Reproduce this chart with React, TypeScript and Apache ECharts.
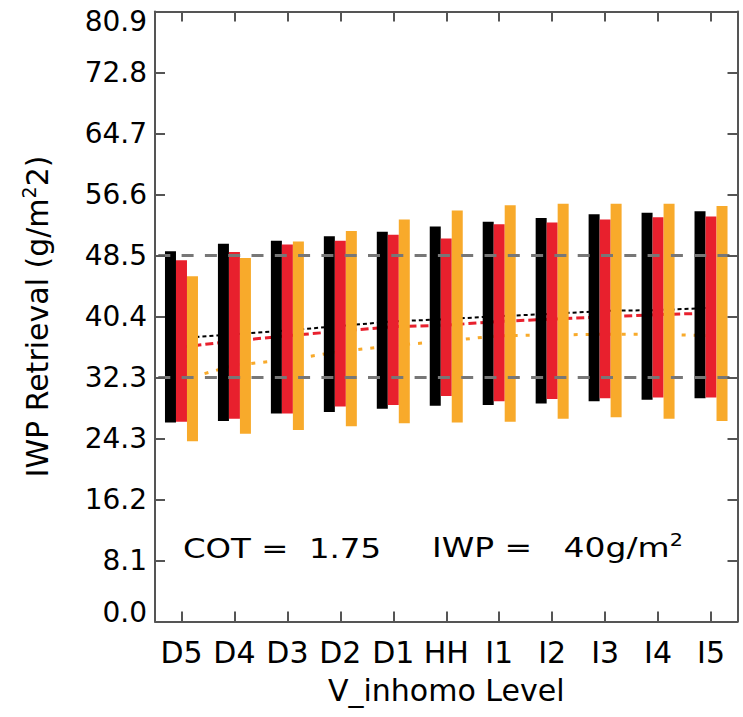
import React, { useEffect, useRef } from 'react';
import * as echarts from 'echarts';

const categories = ['D5', 'D4', 'D3', 'D2', 'D1', 'HH', 'I1', 'I2', 'I3', 'I4', 'I5'];

const blackLow = [26.4, 26.6, 27.6, 27.8, 28.2, 28.6, 28.7, 28.9, 29.2, 29.4, 29.6];
const blackHigh = [49.1, 50.1, 50.5, 51.1, 51.7, 52.4, 53.0, 53.5, 54.0, 54.2, 54.4];
const redLow = [26.5, 26.9, 27.6, 28.5, 28.7, 29.9, 29.2, 29.5, 29.6, 29.7, 29.7];
const redHigh = [47.9, 49.0, 50.0, 50.5, 51.3, 50.8, 52.7, 52.9, 53.3, 53.6, 53.7];
const orangeLow = [23.9, 24.9, 25.4, 25.9, 26.3, 26.4, 26.5, 26.9, 27.1, 26.9, 26.6];
const orangeHigh = [45.8, 48.2, 50.4, 51.8, 53.3, 54.5, 55.2, 55.4, 55.4, 55.4, 55.1];

const blackMean = [37.6, 38.1, 38.6, 39.2, 39.8, 40.1, 40.5, 40.8, 41.2, 41.3, 41.6];
const redMean = [36.4, 37.2, 37.9, 38.5, 39.1, 39.3, 39.8, 40.1, 40.4, 40.7, 40.9];
const orangeMean = [32.0, 34.0, 34.7, 35.8, 36.6, 37.2, 37.9, 38.0, 38.1, 38.1, 37.9];

const upperBound = 48.54;
const lowerBound = 32.36;

const yTickLabels = ['0.0', '8.1', '16.2', '24.3', '32.3', '40.4', '48.5', '56.6', '64.7', '72.8', '80.9'];
const yMax = 80.9;
const yInterval = 8.09;

const FONT = 'DejaVu Sans';
const FS = 28;
const AXIS_COLOR = '#555';
const BLACK = '#000000';
const RED = '#E8202D';
const ORANGE = '#F8AA2B';

function rangeSeries(stack: string, low: number[], high: number[], color: string) {
  return [
    {
      type: 'bar',
      stack,
      data: low,
      barWidth: 11,
      barGap: '0%',
      itemStyle: { color: 'transparent' },
      silent: true,
      z: 3,
    },
    {
      type: 'bar',
      stack,
      data: high.map((h, i) => +(h - low[i]).toFixed(3)),
      barWidth: 11,
      barGap: '0%',
      itemStyle: { color },
      z: 3,
    },
  ];
}

const tickStyle = { show: true, inside: true, length: 10, lineStyle: { color: AXIS_COLOR, width: 2 } };
const lineStyleAxis = { show: true, onZero: false, lineStyle: { color: AXIS_COLOR, width: 2 } };

export default function App() {
  const ref = useRef<HTMLDivElement>(null);
  useEffect(() => {
    const chart = echarts.init(ref.current!, null, { renderer: 'svg' });
    const labelRich = {
      lo: { fontSize: FS, fontFamily: FONT, color: '#000', padding: [0, 0, 18, 0] },
      hi: { fontSize: FS, fontFamily: FONT, color: '#000', padding: [20, 0, 0, 0] },
    };
    const option: any = {
      animation: false,
      backgroundColor: '#fff',
      grid: {
        left: 155,
        top: 11.5,
        right: 5.5,
        bottom: 95.5,
        show: false,
      },
      xAxis: [
        {
          type: 'category',
          data: categories,
          position: 'bottom',
          axisLine: lineStyleAxis,
          axisTick: { ...tickStyle, alignWithLabel: true, interval: 0 },
          axisLabel: { margin: 16, fontSize: 30, fontFamily: FONT, color: '#000', interval: 0 },
          splitLine: { show: false },
          name: 'V_inhomo Level',
          nameLocation: 'middle',
          nameGap: 54,
          nameTextStyle: { fontSize: 30, fontFamily: FONT, color: '#000', verticalAlign: 'top' },
          z: 10,
        },
        {
          type: 'category',
          data: categories,
          position: 'top',
          axisLine: lineStyleAxis,
          axisTick: { ...tickStyle, alignWithLabel: true, interval: 0 },
          axisLabel: { show: false },
          splitLine: { show: false },
          z: 10,
        },
      ],
      yAxis: [
        {
          type: 'value',
          min: 0,
          max: yMax,
          interval: yInterval,
          position: 'left',
          axisLine: lineStyleAxis,
          axisTick: tickStyle,
          splitLine: { show: false },
          axisLabel: {
            margin: 8,
            fontSize: FS,
            fontFamily: FONT,
            color: '#000',
            formatter: (_v: number, idx: number) => {
              const s = yTickLabels[idx] ?? '';
              if (idx === 0) return '{lo|' + s + '}';
              if (idx === yTickLabels.length - 1) return '{hi|' + s + '}';
              return s;
            },
            rich: labelRich,
          },
          name: 'IWP Retrieval (g/m{sup|2}2)',
          nameLocation: 'middle',
          nameGap: 100,
          nameRotate: 90,
          nameTextStyle: {
            fontSize: 30,
            fontFamily: FONT,
            color: '#000',
            rich: {
              sup: { fontSize: 19, fontFamily: FONT, color: '#000', padding: [0, 0, 17, 0] },
            },
          },
          z: 10,
        },
        {
          type: 'value',
          min: 0,
          max: yMax,
          interval: yInterval,
          position: 'right',
          axisLine: lineStyleAxis,
          axisTick: tickStyle,
          splitLine: { show: false },
          axisLabel: { show: false },
          z: 10,
        },
      ],
      series: [
        {
          type: 'line',
          data: blackMean,
          symbol: 'none',
          z: 1,
          lineStyle: { color: BLACK, width: 2, type: [4, 3] },
        },
        {
          type: 'line',
          data: redMean,
          symbol: 'none',
          z: 1,
          lineStyle: { color: RED, width: 3, type: [8, 4] },
        },
        {
          type: 'line',
          data: orangeMean,
          symbol: 'none',
          z: 1,
          lineStyle: { color: ORANGE, width: 3, type: [4, 8] },
        },
        ...rangeSeries('k', blackLow, blackHigh, BLACK),
        ...rangeSeries('r', redLow, redHigh, RED),
        ...rangeSeries('o', orangeLow, orangeHigh, ORANGE),
        {
          type: 'line',
          data: [],
          z: 5,
          markLine: {
            silent: true,
            symbol: 'none',
            label: { show: false },
            z: 5,
            lineStyle: { color: '#777', width: 3, type: [12, 11.3], dashOffset: 20 },
            data: [{ yAxis: upperBound }, { yAxis: lowerBound }],
          },
        },
      ],
      graphic: [
        {
          type: 'text',
          x: 183,
          y: 548,
          scaleX: 1.2,
          style: {
            text: 'COT =  1.75',
            fontSize: FS - 1,
            fontFamily: FONT,
            fill: '#000',
            verticalAlign: 'middle',
          },
        },
        {
          type: 'text',
          x: 432,
          y: 548,
          scaleX: 1.22,
          style: {
            text: 'IWP =   40g/m{sup|2}',
            fontSize: FS - 1,
            fontFamily: FONT,
            fill: '#000',
            verticalAlign: 'middle',
            rich: {
              sup: { fontSize: 17, fontFamily: FONT, fill: '#000', padding: [0, 0, 16, 0] },
            },
          },
        },
      ],
    };
    chart.setOption(option);
    return () => chart.dispose();
  }, []);
  return (
    <div
      ref={ref}
      style={{ position: 'absolute', left: 0, top: 0, width: 743, height: 717 }}
    />
  );
}
